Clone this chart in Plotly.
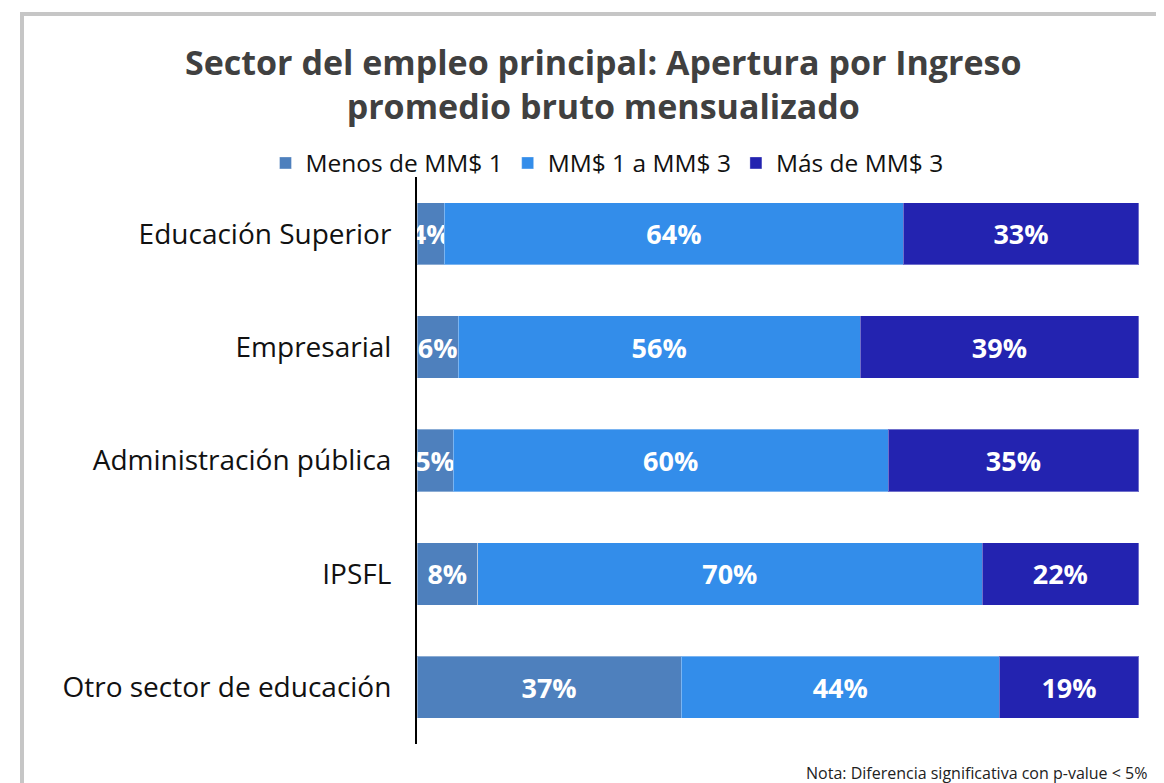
import plotly.graph_objects as go

categories = ["Educación Superior", "Empresarial", "Administración pública", "IPSFL", "Otro sector de educación"]
series_names = ["Menos de MM$ 1", "MM$ 1 a MM$ 3", "Más de MM$ 3"]
menos_1 = [3.8, 5.7, 5.0, 8.4, 36.6]
de_1_a_3 = [63.6, 55.7, 60.3, 69.9, 44.1]
mas_3 = [32.6, 38.6, 34.7, 21.7, 19.3]
colors = ["#4E80BD", "#338DEA", "#2323B0"]

W, H = 1164, 783
OFF = 8  # page body margin
L, R, T, B = 417 - OFF, 25 + OFF, 177 - OFF, 39 + OFF
pw, ph = W - L - R, H - T - B

def px_x(px):
    return (px - OFF - L) / pw

def px_y(py):
    return (H - B - (py - OFF)) / ph

FONT = "Open Sans"

fig = go.Figure()
for name, vals, col in zip(series_names, [menos_1, de_1_a_3, mas_3], colors):
    fig.add_trace(go.Bar(
        y=categories, x=vals, name=name, orientation="h",
        marker=dict(color=col, line=dict(color="rgba(255,255,255,0.35)", width=1)),
        texttemplate="%{x:.0f}%", textposition="inside", insidetextanchor="middle",
        textangle=0, constraintext="none", cliponaxis=False,
        textfont=dict(family=FONT, size=27, color="white", weight="bold"),
        hoverinfo="skip",
    ))

fig.update_layout(
    width=W, height=H,
    margin=dict(l=L, r=R, t=T, b=B, autoexpand=False),
    barmode="stack", bargap=0.45,
    plot_bgcolor="white", paper_bgcolor="white",
    font=dict(family=FONT, color="#111111"),
    showlegend=True,
    legend=dict(orientation="h", x=px_x(607), xanchor="center", y=px_y(163), yanchor="middle",
                font=dict(size=24.5, color="#111111"), traceorder="normal", itemwidth=30,
                bgcolor="rgba(0,0,0,0)"),
    xaxis=dict(range=[0, 100.05], visible=False, fixedrange=True),
    yaxis=dict(autorange="reversed", showline=True, linecolor="black", linewidth=2,
               showgrid=False, ticks="", ticklabelstandoff=18,
               tickfont=dict(size=28, color="#111111")),
)

fig.add_annotation(
    xref="paper", yref="paper", x=px_x(603), y=px_y(84), xanchor="center", yanchor="middle",
    text="<b>Sector del empleo principal: Apertura por Ingreso<br>promedio bruto mensualizado</b>",
    showarrow=False, font=dict(family=FONT, size=34, color="#404040"), align="center",
)

fig.add_annotation(
    xref="paper", yref="paper", x=px_x(804), y=px_y(773), xanchor="left", yanchor="middle",
    text="Nota: Diferencia significativa con p-value < 5%", showarrow=False,
    font=dict(family=FONT, size=16, color="#222222"), align="left",
)

fig.add_shape(
    type="path", xref="paper", yref="paper",
    path=f"M {px_x(22)},{px_y(800)} L {px_x(22)},{px_y(14)} L {px_x(1200)},{px_y(14)}",
    line=dict(color="#C6C6C6", width=4),
)

fig.write_html("out.html")
